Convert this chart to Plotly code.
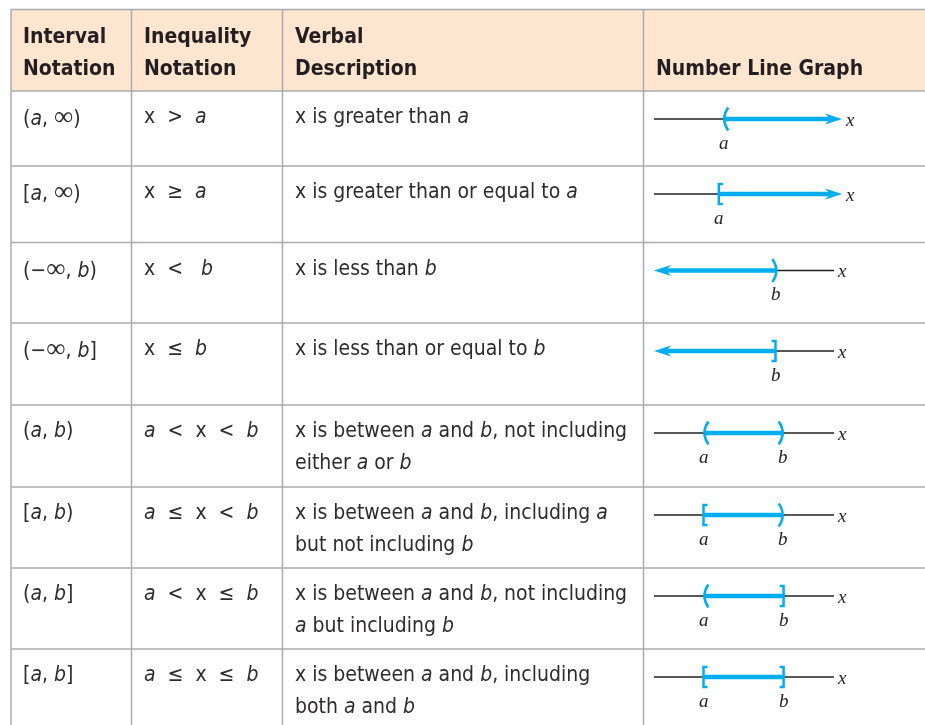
import plotly.graph_objects as go

# table content
headers = [["Interval", "Notation"], ["Inequality", "Notation"],
           ["Verbal", "Description"], ["", "Number Line Graph"]]
INF = '<span style="font-size:27px;font-family:Liberation Serif">∞</span>'
interval_notation = [f"(<i>a</i>, {INF})", f"[<i>a</i>, {INF})", f"(−{INF}, <i>b</i>)", f"(−{INF}, <i>b</i>]",
                     "(<i>a</i>, <i>b</i>)", "[<i>a</i>, <i>b</i>)", "(<i>a</i>, <i>b</i>]", "[<i>a</i>, <i>b</i>]"]
inequality_notation = ["x  >  <i>a</i>", "x  ≥  <i>a</i>", "x  <   <i>b</i>", "x  ≤  <i>b</i>",
                       "<i>a</i>  <  x  <  <i>b</i>", "<i>a</i>  ≤  x  <  <i>b</i>",
                       "<i>a</i>  <  x  ≤  <i>b</i>", "<i>a</i>  ≤  x  ≤  <i>b</i>"]
verbal = [["x is greater than <i>a</i>"],
          ["x is greater than or equal to <i>a</i>"],
          ["x is less than <i>b</i>"],
          ["x is less than or equal to <i>b</i>"],
          ["x is between <i>a</i> and <i>b</i>, not including", "either <i>a</i> or <i>b</i>"],
          ["x is between <i>a</i> and <i>b</i>, including <i>a</i>", "but not including <i>b</i>"],
          ["x is between <i>a</i> and <i>b</i>, not including", "<i>a</i> but including <i>b</i>"],
          ["x is between <i>a</i> and <i>b</i>, including", "both <i>a</i> and <i>b</i>"]]

# number line: endpoint values on a 0..10 line, None = unbounded
a_val = [3.9, 3.6, None, None, 2.8, 2.75, 2.8, 2.75]
b_val = [None, None, 6.8, 6.75, 7.15, 7.15, 7.2, 7.2]
a_closed = [False, True, None, None, False, True, False, True]
b_closed = [None, None, False, True, False, False, True, True]

# layout constants (pixels)
W, H = 925, 725
col_x = [11, 131.5, 282.5, 643.5]
row_y = [9.5, 91, 166, 242.5, 323, 405, 487, 568, 649]
NL_LEFT, NL_RIGHT, NL_EDGE = 654, 834, 880
PX = 10 / (NL_RIGHT - NL_LEFT)  # number-line units per pixel
BLUE = "#00aeef"
INK = "#231f20"
BODY_INK = "#2e2b2c"
GRID = "#a9abae"
BODY_FONT = "Liberation Sans Narrow, DejaVu Sans Condensed, sans-serif"
SERIF = "Liberation Serif, DejaVu Serif, serif"

fig = go.Figure()
fig.add_trace(go.Scatter(x=[0, W], y=[0, H], mode="markers", opacity=0,
                         hoverinfo="skip", showlegend=False))

shapes = []
annotations = []

# header background and grid
shapes.append(dict(type="rect", xref="x", yref="y", x0=col_x[0], x1=W + 5, y0=row_y[0], y1=row_y[1],
                   fillcolor="#fde5cf", line=dict(width=0), layer="below"))
for y in row_y:
    shapes.append(dict(type="line", xref="x", yref="y", x0=col_x[0], x1=W + 5, y0=y, y1=y,
                       line=dict(color=GRID, width=1.5)))
for x in col_x:
    shapes.append(dict(type="line", xref="x", yref="y", x0=x, x1=x, y0=row_y[0], y1=H + 5,
                       line=dict(color=GRID, width=1.5)))


def add_text(x, y, text, size=21, font=BODY_FONT, color=BODY_INK, xref="x", xanchor="left"):
    annotations.append(dict(x=x, y=y, xref=xref, yref="y", text=text, showarrow=False,
                            xanchor=xanchor, yanchor="middle",
                            font=dict(family=font, size=size, color=color)))


# header text
for c, lines in enumerate(headers):
    for k, line in enumerate(lines):
        if line:
            add_text(col_x[c] + 10, 36 + 32 * k, "<b>" + line + "</b>", size=21, color=INK)

# body rows
for r in range(len(interval_notation)):
    top = row_y[r + 1]
    add_text(col_x[0] + 10, top + 25, interval_notation[r])
    add_text(col_x[1] + 10, top + 25, inequality_notation[r])
    for k, line in enumerate(verbal[r]):
        add_text(col_x[2] + 10, top + 25 + 32 * k, line)

# number lines
line_kw = dict(mode="lines", hoverinfo="skip", showlegend=False, xaxis="x2", yaxis="y")
RAY_TIP = 10.45
for r in range(len(a_val)):
    yl = row_y[r + 1] + 28
    a, b = a_val[r], b_val[r]
    if b is None:
        # ray to the right
        fig.add_trace(go.Scatter(x=[0, a], y=[yl, yl], line=dict(color=INK, width=1.3), **line_kw))
        fig.add_trace(go.Scatter(x=[a, RAY_TIP - 12 * PX], y=[yl, yl],
                                 line=dict(color=BLUE, width=4.5), **line_kw))
        t = RAY_TIP
        shapes.append(dict(type="path", xref="x2", yref="y", fillcolor=BLUE, line=dict(width=0),
                           path=f"M{t},{yl} L{t - 17 * PX},{yl - 5.5} L{t - 12 * PX},{yl} L{t - 17 * PX},{yl + 5.5} Z"))
        x_end = RAY_TIP
    elif a is None:
        # ray to the left
        fig.add_trace(go.Scatter(x=[b, 10], y=[yl, yl], line=dict(color=INK, width=1.3), **line_kw))
        fig.add_trace(go.Scatter(x=[12 * PX, b], y=[yl, yl],
                                 line=dict(color=BLUE, width=4.5), **line_kw))
        t = 0
        shapes.append(dict(type="path", xref="x2", yref="y", fillcolor=BLUE, line=dict(width=0),
                           path=f"M{t},{yl} L{t + 17 * PX},{yl - 5.5} L{t + 12 * PX},{yl} L{t + 17 * PX},{yl + 5.5} Z"))
        x_end = 10
    else:
        fig.add_trace(go.Scatter(x=[0, 10], y=[yl, yl], line=dict(color=INK, width=1.3), **line_kw))
        fig.add_trace(go.Scatter(x=[a, b], y=[yl, yl], line=dict(color=BLUE, width=4.5), **line_kw))
        x_end = 10
    # endpoint marks
    for val, closed, side in ((a, a_closed[r], 1), (b, b_closed[r], -1)):
        if val is None:
            continue
        if closed:
            p = (f"M{val + side * 4 * PX},{yl - 10} L{val},{yl - 10} "
                 f"L{val},{yl + 10} L{val + side * 4 * PX},{yl + 10}")
        else:
            p = (f"M{val + side * 4 * PX},{yl - 11.5} Q{val - side * 4 * PX},{yl} "
                 f"{val + side * 4 * PX},{yl + 11.5}")
        shapes.append(dict(type="path", xref="x2", yref="y", path=p,
                           line=dict(color=BLUE, width=2.5)))
        add_text(val, yl + 23, "<i>" + ("a" if side == 1 else "b") + "</i>",
                 size=19, font=SERIF, color=INK, xref="x2", xanchor="center")
    add_text(x_end + 0.45, yl, "<i>x</i>", size=19, font=SERIF, color=INK, xref="x2", xanchor="center")

fig.update_layout(
    width=W, height=H, margin=dict(l=0, r=0, t=0, b=0),
    paper_bgcolor="white", plot_bgcolor="rgba(0,0,0,0)",
    xaxis=dict(range=[0, W], visible=False, domain=[0, 1]),
    xaxis2=dict(range=[0, (NL_EDGE - NL_LEFT) * PX], visible=False, anchor="y",
                domain=[NL_LEFT / W, NL_EDGE / W]),
    yaxis=dict(range=[H, 0], visible=False),
    shapes=shapes, annotations=annotations,
)
# drop the default page margin so the figure fills the window exactly
fig.write_html("out.html", config={"displayModeBar": False},
               post_script="document.body.style.margin='0';document.body.style.overflow='hidden';")
